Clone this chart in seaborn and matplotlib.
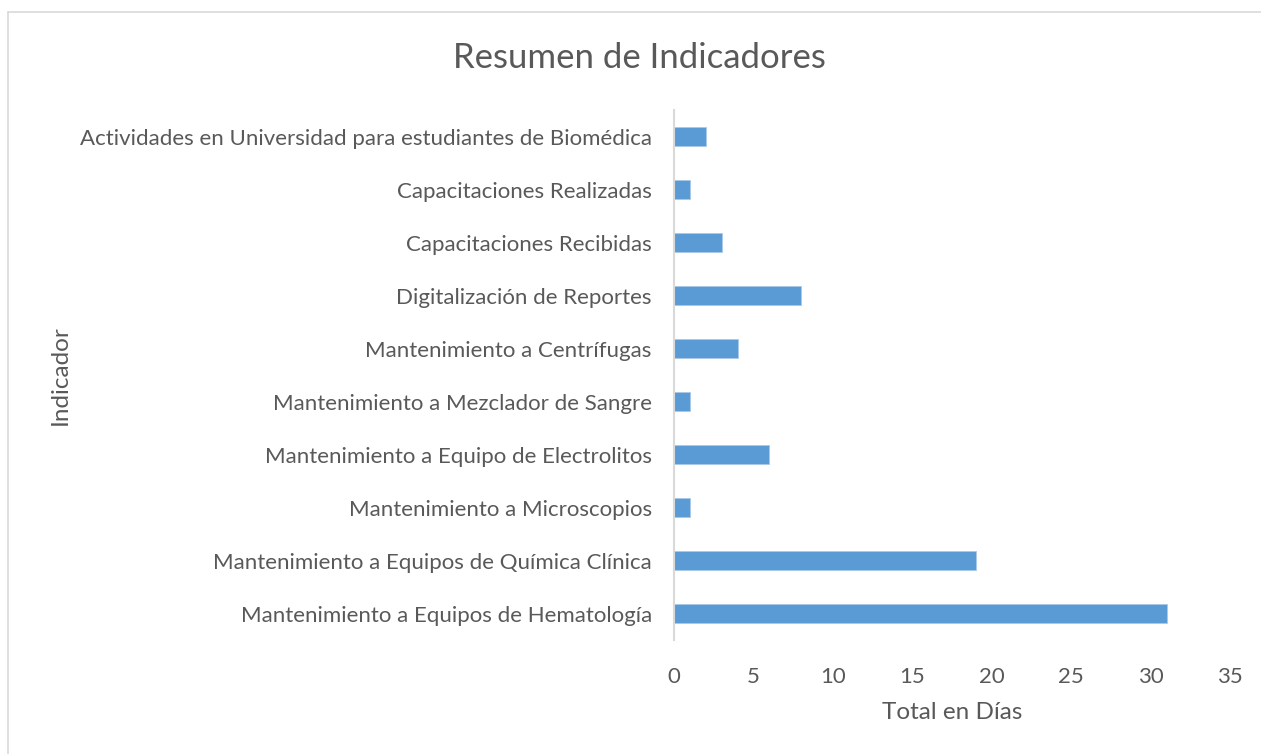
import matplotlib
matplotlib.use("Agg")
import matplotlib.pyplot as plt
from matplotlib.lines import Line2D
import seaborn as sns
import pandas as pd

indicadores = [
    "Actividades en Universidad para estudiantes de Biomédica",
    "Capacitaciones Realizadas",
    "Capacitaciones Recibidas",
    "Digitalización de Reportes",
    "Mantenimiento a Centrífugas",
    "Mantenimiento a Mezclador de Sangre",
    "Mantenimiento a Equipo de Electrolitos",
    "Mantenimiento a Microscopios",
    "Mantenimiento a Equipos de Química Clínica",
    "Mantenimiento a Equipos de Hematología",
]
total_dias = [2, 1, 3, 8, 4, 1, 6, 1, 19, 31]
x_ticks = [0, 5, 10, 15, 20, 25, 30, 35]

TEXT = "#595959"
BAR = "#5B9BD5"

sns.set_theme(style="white")
plt.rcParams["font.family"] = ["Lato", "DejaVu Sans"]

df = pd.DataFrame({"Indicador": indicadores, "Total en Días": total_dias})

fig = plt.figure(figsize=(12.61, 7.54), dpi=100)
ax = fig.add_axes([0.5345, 0.151, 0.441, 0.703])

sns.barplot(data=df, x="Total en Días", y="Indicador", color=BAR,
            width=0.36, saturation=1, ax=ax, edgecolor="#a9c9ea", linewidth=0.6)

ax.set_xlim(0, 35)
ax.set_ylim(len(indicadores) - 0.5, -0.5)
ax.set_xticks(x_ticks)
ax.tick_params(axis="both", length=0, colors=TEXT, labelsize=16)
ax.tick_params(axis="x", pad=19)
ax.tick_params(axis="y", pad=16)

for side in ["top", "right", "bottom"]:
    ax.spines[side].set_visible(False)
ax.spines["left"].set_color("#d9d9d9")
ax.spines["left"].set_linewidth(1.5)

ax.set_xlabel("Total en Días", color=TEXT, fontsize=17.5, labelpad=11)
ax.set_ylabel("Indicador", color=TEXT, fontsize=17.5)
ax.yaxis.set_label_coords(-1.084, 0.5)

fig.text(0.507, 0.923, "Resumen de Indicadores", ha="center", va="center",
         color=TEXT, fontsize=25)

# chart-area frame
fig.add_artist(Line2D([0.0066, 0.0066], [0, 0.984], color="#d9d9d9",
                      lw=1.2, transform=fig.transFigure))
fig.add_artist(Line2D([0.0066, 1.0], [0.984, 0.984], color="#d9d9d9",
                      lw=1.2, transform=fig.transFigure))

fig.savefig("out.png", dpi=100)
